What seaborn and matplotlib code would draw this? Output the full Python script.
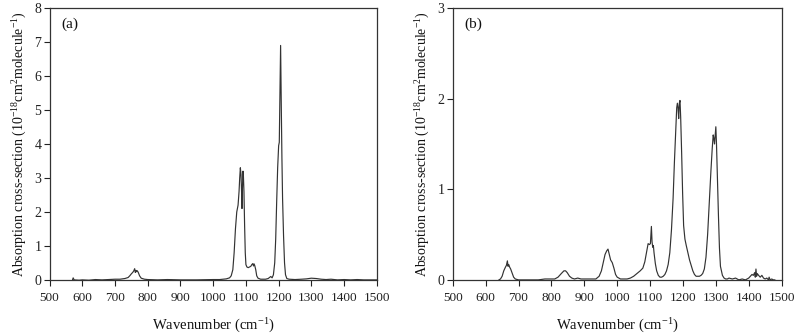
import numpy as np
import pandas as pd
import matplotlib
matplotlib.use("Agg")
import matplotlib.pyplot as plt
import seaborn as sns

# ---- data ----
wn_a = [570, 572, 575, 590, 600, 620, 640, 660, 680, 700, 715, 730, 740, 745, 750, 754, 757, 760, 762, 764,
        766, 768, 771, 775, 780, 790, 800, 830, 860, 900, 950, 1000, 1020, 1040, 1050, 1055, 1060, 1064,
        1068, 1072, 1076, 1079, 1081, 1083, 1085, 1087, 1088, 1089, 1091, 1092, 1094, 1096, 1098, 1100,
        1103, 1107, 1111, 1115, 1118, 1121, 1123, 1125, 1127, 1130, 1133, 1137, 1145, 1160, 1168, 1172,
        1176, 1180, 1184, 1188, 1191, 1194, 1197, 1200, 1202, 1204, 1206, 1208, 1210, 1212, 1215, 1218,
        1221, 1225, 1232, 1250, 1270, 1285, 1300, 1315, 1330, 1345, 1360, 1380, 1400, 1420, 1440, 1460,
        1480, 1500]
abs_a = [0.0, 0.06, 0.0, -0.01, 0.0, -0.01, 0.01, 0.0, 0.01, 0.02, 0.02, 0.04, 0.07, 0.12, 0.18, 0.22,
         0.26, 0.33, 0.22, 0.28, 0.24, 0.27, 0.22, 0.12, 0.05, 0.02, 0.01, 0.0, 0.01, 0.0, 0.0, 0.01,
         0.01, 0.03, 0.06, 0.12, 0.3, 0.8, 1.5, 2.0, 2.2, 2.6, 3.0, 3.3, 3.1, 2.5, 2.1, 2.6, 3.2, 3.15,
         2.6, 1.6, 0.8, 0.45, 0.38, 0.36, 0.38, 0.4, 0.45, 0.48, 0.41, 0.47, 0.42, 0.3, 0.12, 0.05, 0.02,
         0.02, 0.04, 0.07, 0.1, 0.06, 0.15, 0.5, 1.2, 2.3, 3.3, 3.95, 4.05, 5.5, 6.9, 5.2, 3.6, 2.4, 1.3,
         0.5, 0.15, 0.04, 0.02, 0.01, 0.02, 0.03, 0.05, 0.04, 0.02, 0.01, 0.02, 0.0, 0.01, 0.0, 0.01, 0.0,
         0.0, 0.0]

wn_b = [640, 645, 650, 655, 660, 663, 666, 668, 670, 673, 676, 680, 685, 690, 700, 720, 740, 760, 780,
        800, 810, 820, 830, 838, 843, 848, 855, 862, 870, 880, 890, 900, 920, 935, 945, 952, 958, 963,
        968, 972, 976, 980, 985, 990, 995, 1000, 1010, 1020, 1030, 1040, 1050, 1060, 1070, 1078, 1084,
        1089, 1094, 1098, 1101, 1104, 1106, 1108, 1110, 1112, 1116, 1120, 1125, 1130, 1135, 1140, 1145,
        1150, 1155, 1160, 1165, 1170, 1174, 1178, 1181, 1183, 1185, 1187, 1189, 1191, 1193, 1196, 1199,
        1202, 1206, 1210, 1215, 1220, 1225, 1230, 1235, 1240, 1245, 1250, 1255, 1260, 1265, 1270, 1275,
        1280, 1285, 1289, 1292, 1294, 1296, 1298, 1300, 1302, 1305, 1308, 1311, 1314, 1317, 1320, 1325,
        1330, 1335, 1340, 1350, 1360, 1370, 1380, 1390, 1400, 1405, 1410, 1414, 1418, 1420, 1422, 1424,
        1426, 1430, 1435, 1440, 1445, 1450, 1455, 1460, 1462, 1465, 1470, 1475, 1480]
abs_b = [0.0, 0.01, 0.04, 0.1, 0.14, 0.16, 0.21, 0.15, 0.17, 0.14, 0.12, 0.08, 0.03, 0.01, 0.0, 0.0,
         0.0, 0.0, 0.01, 0.01, 0.01, 0.03, 0.07, 0.1, 0.1, 0.08, 0.04, 0.02, 0.01, 0.02, 0.01, 0.01,
         0.01, 0.01, 0.04, 0.1, 0.2, 0.28, 0.32, 0.34, 0.28, 0.22, 0.19, 0.13, 0.06, 0.03, 0.01, 0.01,
         0.01, 0.02, 0.04, 0.07, 0.1, 0.13, 0.2, 0.3, 0.4, 0.39, 0.4, 0.59, 0.42, 0.36, 0.38, 0.3, 0.18,
         0.1, 0.05, 0.03, 0.03, 0.04, 0.06, 0.1, 0.17, 0.3, 0.55, 0.9, 1.3, 1.65, 1.9, 1.95, 1.9, 1.78,
         1.95, 1.98, 1.8, 1.4, 0.95, 0.6, 0.45, 0.38, 0.3, 0.22, 0.16, 0.1, 0.06, 0.04, 0.04, 0.04, 0.05,
         0.07, 0.12, 0.25, 0.5, 0.85, 1.2, 1.45, 1.6, 1.56, 1.5, 1.6, 1.69, 1.5, 1.1, 0.7, 0.35, 0.15,
         0.1, 0.05, 0.02, 0.01, 0.01, 0.02, 0.01, 0.02, 0.0, 0.01, 0.0, 0.02, 0.04, 0.06, 0.05, 0.08,
         0.03, 0.12, 0.04, 0.07, 0.05, 0.03, 0.05, 0.02, 0.01, 0.02, 0.0, 0.03, 0.0, 0.01, 0.0, 0.0]

xticks = [500, 600, 700, 800, 900, 1000, 1100, 1200, 1300, 1400, 1500]
yticks_a = [0, 1, 2, 3, 4, 5, 6, 7, 8]
yticks_b = [0, 1, 2, 3]
panel_labels = ["(a)", "(b)"]
xlabel = "Wavenumber (cm$^{-1}$)"
ylabel = "Absorption cross-section (10$^{-18}$cm$^{2}$molecule$^{-1}$)"

sns.set_theme(style="ticks")
plt.rcParams["font.family"] = ["Liberation Serif", "DejaVu Serif"]
plt.rcParams["mathtext.fontset"] = "custom"
plt.rcParams["mathtext.rm"] = "Liberation Serif"
plt.rcParams["mathtext.it"] = "Liberation Serif:italic"
plt.rcParams["mathtext.bf"] = "Liberation Serif:bold"

fig = plt.figure(figsize=(8, 3.36), dpi=100)
ax_a = fig.add_axes([0.062, 0.167, 0.409, 0.809])
ax_b = fig.add_axes([0.566, 0.167, 0.411, 0.809])

df_a = pd.DataFrame({"wn": wn_a, "abs": abs_a})
df_b = pd.DataFrame({"wn": wn_b, "abs": abs_b})

for ax, df, yt, lab in [(ax_a, df_a, yticks_a, panel_labels[0]), (ax_b, df_b, yticks_b, panel_labels[1])]:
    sns.lineplot(data=df, x="wn", y="abs", ax=ax, color="#333333", linewidth=0.85,
                 estimator=None, sort=False)
    ax.set_xlim(500, 1500)
    ax.set_ylim(yt[0], yt[-1])
    ax.set_xticks(xticks)
    ax.set_yticks(yt)
    ax.tick_params(axis="x", direction="out", length=4, width=0.8, labelsize=9.5,
                   colors="#222222", pad=5)
    ax.tick_params(axis="y", direction="out", length=4, width=0.8, labelsize=10,
                   colors="#222222", pad=2)
    for s in ax.spines.values():
        s.set_visible(True)
        s.set_color("#333333")
        s.set_linewidth(0.9)
    ax.set_xlabel(xlabel, fontsize=10.5, color="#111111", labelpad=9)
    ax.set_ylabel(ylabel, fontsize=10, color="#111111", labelpad=4)
    ax.text(0.035, 0.94, lab, transform=ax.transAxes, fontsize=11, color="#111111",
            ha="left", va="center")

fig.savefig("out.png", dpi=100)
